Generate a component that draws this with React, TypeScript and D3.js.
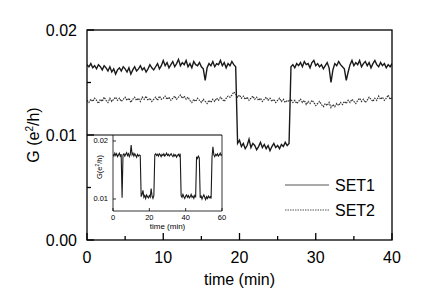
import React from "react";
import * as d3 from "d3";

// main panel: conductance vs time, sampled every 0.25 min
const set1 = [
  0.0167, 0.0165, 0.0168, 0.0164, 0.0166, 0.0163, 0.0167, 0.0165, 0.0162, 0.0166, 0.0164, 0.0161, 0.0165, 0.016, 0.0163, 0.0158, 0.0162, 0.0164, 0.0161, 0.0165,
  0.0163, 0.016, 0.0164, 0.0158, 0.0162, 0.0165, 0.0161, 0.0163, 0.0166, 0.0162, 0.0164, 0.016, 0.0163, 0.0167, 0.0164, 0.0162, 0.0165, 0.0168, 0.0163, 0.0166,
  0.0171, 0.0166, 0.0169, 0.0164, 0.0167, 0.017, 0.0165, 0.0168, 0.0172, 0.0166, 0.0169, 0.0167, 0.0171, 0.0165, 0.0168, 0.0164, 0.017, 0.0167, 0.0166, 0.0169,
  0.0165, 0.0163, 0.0152, 0.0164, 0.0168, 0.0166, 0.017, 0.0165, 0.0168, 0.0167, 0.0171, 0.0166, 0.0169, 0.0164, 0.0168, 0.0166, 0.017, 0.0167, 0.0165,
  0.0092, 0.0095, 0.0089, 0.0092, 0.0087, 0.009, 0.0096, 0.0088, 0.0092, 0.009, 0.0086, 0.0089, 0.0093, 0.0088, 0.0091, 0.0087, 0.009, 0.0085, 0.0089, 0.0092, 0.0088,
  0.009, 0.0087, 0.0091, 0.0089, 0.0093, 0.009, 0.0092,
  0.0165, 0.0167, 0.0164, 0.0168, 0.0166, 0.0169, 0.0165, 0.017, 0.0167, 0.0168, 0.0164, 0.0169, 0.0171,
  0.0166, 0.0168, 0.0165, 0.0167, 0.0163, 0.0166, 0.0169, 0.0164, 0.015, 0.0162, 0.0168, 0.0166, 0.017, 0.0167, 0.0165, 0.0163, 0.0152, 0.016, 0.0167, 0.0171,
  0.0166, 0.0169, 0.0167, 0.0171, 0.0165, 0.0168, 0.017, 0.0166, 0.0169, 0.0164, 0.0168, 0.0171, 0.0167, 0.0165, 0.0169, 0.0166, 0.0168, 0.0164, 0.0167, 0.0165, 0.0168,
];

const set2 = [
  0.0133, 0.0131, 0.0134, 0.0132, 0.0135, 0.0133, 0.013, 0.0134, 0.0132, 0.0136, 0.0133, 0.0131, 0.0135, 0.0132, 0.0134, 0.0136, 0.0133, 0.0135, 0.0132, 0.0134,
  0.0136, 0.0133, 0.0135, 0.0131, 0.0134, 0.0136, 0.0133, 0.0135, 0.0132, 0.0136, 0.0134, 0.0137, 0.0133, 0.0135, 0.0132, 0.0134, 0.0136, 0.0133, 0.0137, 0.0134,
  0.0135, 0.0137, 0.0134, 0.0136, 0.0133, 0.0135, 0.0137, 0.0134, 0.0136, 0.0138, 0.0135, 0.0137, 0.0134, 0.0136, 0.0133, 0.0131, 0.0134, 0.0132, 0.0135, 0.0133,
  0.0131, 0.0134, 0.0132, 0.013, 0.0133, 0.0131, 0.0134, 0.0132, 0.0135, 0.0133, 0.0136, 0.0134, 0.0132, 0.0135, 0.0137, 0.0136, 0.0138, 0.0141, 0.0139,
  0.0136, 0.0138, 0.0135, 0.0137, 0.0134, 0.0136, 0.0133, 0.0135, 0.0137, 0.0134, 0.0136, 0.0133, 0.0135, 0.0132, 0.0134, 0.0136, 0.0133, 0.0135, 0.0132, 0.0134, 0.0131,
  0.0133, 0.0135, 0.0132, 0.0134, 0.0131, 0.0133, 0.0132,
  0.0134, 0.0131, 0.0133, 0.013, 0.0132, 0.0134, 0.0131, 0.0133, 0.0129, 0.0132, 0.013, 0.0133, 0.0131,
  0.0128, 0.013, 0.0132, 0.0129, 0.0127, 0.013, 0.0128, 0.0131, 0.0126, 0.0129, 0.0127, 0.013, 0.0128, 0.0131, 0.0129, 0.0132, 0.013, 0.0133, 0.0131, 0.0134,
  0.0132, 0.013, 0.0133, 0.0135, 0.0132, 0.0134, 0.0131, 0.0133, 0.0136, 0.0134, 0.0132, 0.0135, 0.0133, 0.0137, 0.0134, 0.0136, 0.0133, 0.0135, 0.0138, 0.0134, 0.0136,
];

// inset: longer run, sampled every 0.5 min
const insetSet = [
  0.0177, 0.0174, 0.0179, 0.0175, 0.0178, 0.0173, 0.0176, 0.0179, 0.0174, 0.0177,
  0.0102,
  0.0176, 0.0178, 0.0174, 0.0177, 0.018, 0.0175, 0.0178, 0.0173, 0.0177, 0.0193, 0.0176, 0.0179, 0.0174, 0.0178, 0.0175, 0.0172, 0.0177, 0.0174, 0.0176,
  0.0175,
  0.0104, 0.0108, 0.0115, 0.0103, 0.0106, 0.0101, 0.0107, 0.0104, 0.0102, 0.0106, 0.0103, 0.0118, 0.0105, 0.0101, 0.0106,
  0.0176, 0.0178, 0.0175, 0.0177, 0.0174, 0.0178, 0.0176, 0.0173, 0.0177, 0.0175, 0.0178, 0.0174, 0.0176, 0.0179, 0.0175, 0.0177, 0.0174, 0.0176, 0.0178, 0.0175, 0.0173, 0.0177, 0.0174, 0.0176, 0.0172, 0.0175, 0.0177, 0.0174, 0.0178,
  0.0106, 0.0103, 0.0108, 0.0104, 0.0101, 0.0105, 0.0107, 0.0103, 0.0106, 0.0102, 0.0104, 0.0108, 0.0103, 0.0105, 0.0101, 0.0106, 0.0104,
  0.0173, 0.017, 0.0174, 0.0171,
  0.0102, 0.0105, 0.01, 0.0104, 0.0107, 0.0103, 0.0099, 0.0104, 0.0101, 0.0105, 0.0102, 0.0104, 0.0101,
  0.0172, 0.019, 0.0176, 0.0173, 0.0177, 0.0175, 0.0178, 0.0174, 0.0176, 0.0179, 0.0175, 0.0177,
];

const mainStep = 0.25;
const insetStep = 0.5;
const xTicks = [0, 10, 20, 30, 40];
const xMinor = [5, 15, 25, 35];
const yTicks = [0, 0.01, 0.02];
const yMinor = [0.005, 0.015];
const insetXTicks = [0, 20, 40, 60];
const insetYTicks = [0.01, 0.02];
const legendItems = ["SET1", "SET2"];

const font = "'Liberation Sans', Arial, sans-serif";

const App = () => {
  const width = 436;
  const height = 301;
  const m = { left: 87, right: 392, top: 30, bottom: 240 };

  const x = d3.scaleLinear().domain([0, 40]).range([m.left, m.right]);
  const y = d3.scaleLinear().domain([0, 0.02]).range([m.bottom, m.top]);

  const ins = { left: 113, right: 222, top: 135, bottom: 211 };
  const ix = d3.scaleLinear().domain([0, 60]).range([ins.left, ins.right]);
  const iy = d3.scaleLinear().domain([0.00793, 0.02103]).range([ins.bottom, ins.top]);

  const line = d3
    .line<number>()
    .x((d, i) => x(i * mainStep))
    .y((d) => y(d));
  const insetLine = d3
    .line<number>()
    .x((d, i) => ix(i * insetStep))
    .y((d) => iy(d));

  return (
    <svg width={width} height={height} style={{ position: "absolute", left: 0, top: 0, background: "#fff" }} fontFamily={font}>
      <defs>
        <clipPath id="mainClip">
          <rect x={m.left} y={m.top} width={m.right - m.left} height={m.bottom - m.top} />
        </clipPath>
        <clipPath id="insetClip">
          <rect x={ins.left} y={ins.top} width={ins.right - ins.left} height={ins.bottom - ins.top} />
        </clipPath>
      </defs>

      {/* data */}
      <g clipPath="url(#mainClip)" fill="none">
        <path d={line(set2) || ""} stroke="#333" strokeWidth={1.2} strokeDasharray="1.5,1" />
        <path d={line(set1) || ""} stroke="#1a1a1a" strokeWidth={1.4} />
      </g>

      {/* inset */}
      <rect x={m.left} y={ins.top} width={ins.right - m.left} height={m.bottom - ins.top} fill="#fff" />
      <line x1={m.left} x2={ins.right} y1={ins.top} y2={ins.top} stroke="#000" strokeWidth={1} />
      <path
        d={`M${ins.left},${ins.top}V${ins.bottom}H${ins.right}V${ins.top}`}
        fill="none"
        stroke="#000"
        strokeWidth={0.8}
      />
      <g clipPath="url(#insetClip)">
        <path d={insetLine(insetSet) || ""} fill="none" stroke="#1a1a1a" strokeWidth={1.1} />
      </g>
      {insetXTicks.map((t) => (
        <g key={"ix" + t}>
          <line x1={ix(t)} x2={ix(t)} y1={ins.bottom} y2={ins.bottom - 3} stroke="#000" strokeWidth={0.8} />
          <text x={ix(t)} y={ins.bottom + 9} fontSize={7.5} textAnchor="middle">
            {t}
          </text>
        </g>
      ))}
      {insetYTicks.map((t) => (
        <g key={"iy" + t}>
          <line x1={ins.left} x2={ins.left + 3} y1={iy(t)} y2={iy(t)} stroke="#000" strokeWidth={0.8} />
          <text x={ins.left - 5} y={iy(t) + 2.5} fontSize={7.5} textAnchor="end">
            {t.toFixed(2)}
          </text>
        </g>
      ))}
      <text x={(ins.left + ins.right) / 2} y={ins.bottom + 18} fontSize={8} textAnchor="middle">
        time (min)
      </text>
      <text transform={`translate(${ins.left - 11},${(iy(0.02) + iy(0.01)) / 2 - 3}) rotate(-90)`} fontSize={7.5} textAnchor="middle">
        G(e<tspan dy={-3} fontSize={5}>2</tspan>
        <tspan dy={3}>/h)</tspan>
      </text>

      {/* frame */}
      <rect x={m.left} y={m.top} width={m.right - m.left} height={m.bottom - m.top} fill="none" stroke="#000" strokeWidth={1.3} />

      {/* axes */}
      {xTicks.map((t) => (
        <g key={"x" + t}>
          <line x1={x(t)} x2={x(t)} y1={m.bottom} y2={m.bottom - 7} stroke="#000" strokeWidth={1.3} />
          <text x={x(t)} y={263} fontSize={16} textAnchor="middle">
            {t}
          </text>
        </g>
      ))}
      {xMinor.map((t) => (
        <line key={"xm" + t} x1={x(t)} x2={x(t)} y1={m.bottom} y2={m.bottom - 4} stroke="#000" strokeWidth={1.3} />
      ))}
      {yTicks.map((t) => (
        <g key={"y" + t}>
          <line x1={m.left} x2={m.left + 7} y1={y(t)} y2={y(t)} stroke="#000" strokeWidth={1.3} />
          <text x={77} y={y(t) + 6} fontSize={16} textAnchor="end">
            {t.toFixed(2)}
          </text>
        </g>
      ))}
      {yMinor.map((t) => (
        <line key={"ym" + t} x1={m.left} x2={m.left + 4} y1={y(t)} y2={y(t)} stroke="#000" strokeWidth={1.3} />
      ))}

      <text x={(m.left + m.right) / 2} y={285} fontSize={16} textAnchor="middle">
        time (min)
      </text>
      <text transform={`translate(39,${(m.top + m.bottom) / 2}) rotate(-90)`} fontSize={16} textAnchor="middle">
        G (e<tspan dy={-6} fontSize={10}>2</tspan>
        <tspan dy={6}>/h)</tspan>
      </text>

      {/* legend */}
      {legendItems.map((name, i) => (
        <g key={name} transform={`translate(285,${185 + i * 25})`}>
          <line
            x1={0}
            x2={44}
            y1={0}
            y2={0}
            stroke="#555"
            strokeWidth={1}
            strokeDasharray={i === 0 ? undefined : "1.5,1"}
          />
          <text x={50} y={6} fontSize={16}>
            {name}
          </text>
        </g>
      ))}
    </svg>
  );
};

export default App;
